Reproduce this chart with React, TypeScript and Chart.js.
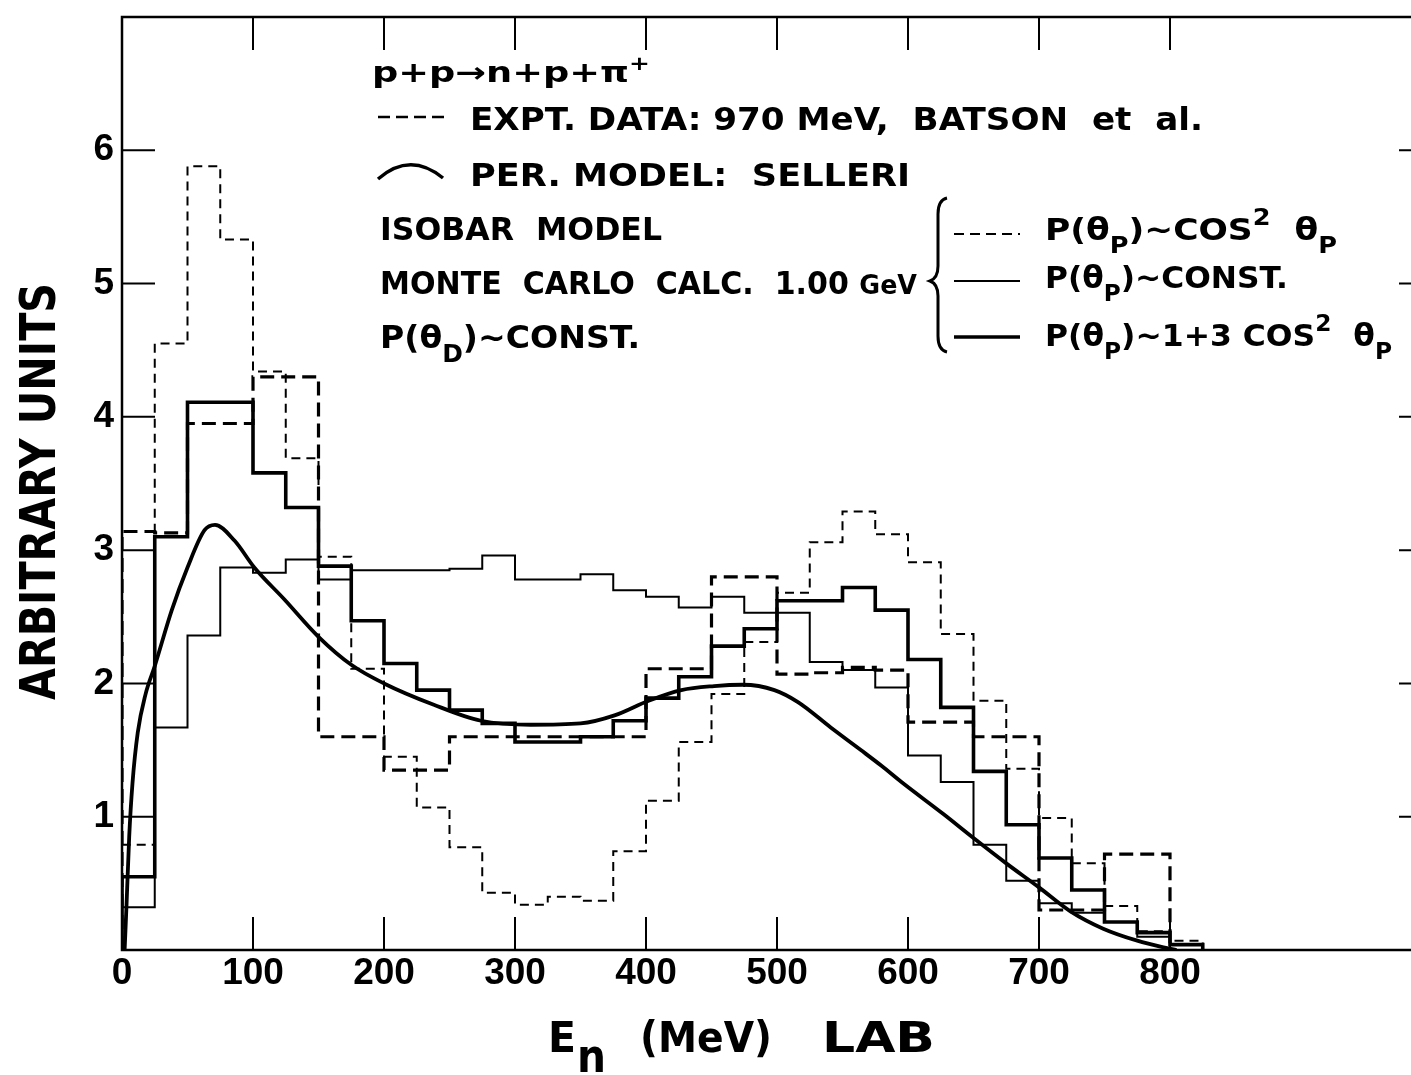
import React, { useEffect, useRef } from 'react';
import { Chart, registerables } from 'chart.js';

Chart.register(...registerables);

// Neutron lab energy bins, 25 MeV wide (left edges, MeV)
const BIN_WIDTH = 25;
const BIN_STARTS = [
  0, 25, 50, 75, 100, 125, 150, 175, 200, 225, 250, 275, 300, 325, 350, 375, 400,
  425, 450, 475, 500, 525, 550, 575, 600, 625, 650, 675, 700, 725, 750, 775, 800,
];

// Experimental spectrum, 970 MeV (Batson et al.)
const EXPT_BATSON = [
  0.79, 4.55, 5.88, 5.33, 4.34, 3.69, 2.95, 2.11, 1.45, 1.07, 0.77, 0.43, 0.34, 0.4, 0.37, 0.74, 1.12,
  1.56, 1.92, 2.31, 2.68, 3.06, 3.29, 3.12, 2.91, 2.37, 1.87, 1.36, 0.99, 0.65, 0.33, 0.14, 0.07,
];

// Isobar model Monte Carlo, 1.00 GeV, P(θp) ~ cos²θp
const ISOBAR_COS2 = [
  3.14, 3.13, 3.95, 3.95, 4.3, 4.3, 1.6, 1.6, 1.35, 1.35, 1.6, 1.6, 1.6, 1.6, 1.6, 1.6, 2.11,
  2.11, 2.8, 2.8, 2.07, 2.08, 2.12, 2.1, 1.71, 1.71, 1.6, 1.6, 0.3, 0.3, 0.72, 0.72,
];

// Isobar model Monte Carlo, P(θp) ~ const.
const ISOBAR_CONST = [
  0.32, 1.67, 2.36, 2.87, 2.83, 2.93, 2.78, 2.85, 2.85, 2.85, 2.86, 2.96, 2.78, 2.78, 2.82, 2.7, 2.65,
  2.57, 2.65, 2.53, 2.53, 2.16, 2.1, 1.97, 1.46, 1.26, 0.79, 0.52, 0.35, 0.28, 0.21, 0.1,
];

// Isobar model Monte Carlo, P(θp) ~ 1 + 3cos²θp
const ISOBAR_1_3COS2 = [
  0.55, 3.1, 4.11, 4.11, 3.58, 3.32, 2.88, 2.47, 2.15, 1.95, 1.8, 1.7, 1.56, 1.56, 1.6, 1.72, 1.89,
  2.05, 2.28, 2.41, 2.62, 2.62, 2.72, 2.55, 2.18, 1.82, 1.34, 0.94, 0.69, 0.45, 0.21, 0.13, 0.04,
];

// Peripheral model (Selleri), smooth curve
const SELLERI_E = [
  2, 3.5, 5.5, 8, 12, 18, 25, 38, 50, 63, 71, 86, 101, 124, 150, 175, 200, 238, 274, 312, 350,
  376, 402, 427, 452, 474, 498, 516, 541, 564, 580, 595, 627, 650, 675, 700, 724, 749, 775, 795, 805,
];
const SELLERI_Y = [
  0, 0.35, 0.85, 1.25, 1.63, 1.92, 2.13, 2.55, 2.87, 3.15, 3.19, 3.07, 2.87, 2.63, 2.35, 2.14, 2.0,
  1.84, 1.72, 1.69, 1.7, 1.76, 1.87, 1.95, 1.98, 1.99, 1.95, 1.86, 1.67, 1.5, 1.38, 1.26, 1.02, 0.84,
  0.65, 0.47, 0.29, 0.16, 0.07, 0.02, 0,
];

// Axis ticks
const X_TICK_LABELS = [0, 100, 200, 300, 400, 500, 600, 700, 800];
const X_TICK_MARKS = [100, 200, 300, 400, 500, 600, 700, 800];
const Y_TICK_LABELS = [1, 2, 3, 4, 5, 6];

const TEXT_FONT = '"DejaVu Sans", "Liberation Sans", sans-serif';
const TICK_FONT = '"Liberation Sans", "DejaVu Sans", sans-serif';

type Seg = { t: string; size: number; dy?: number };

// histogram outline: rise at the first edge, flat tops, drop after the last bin
function histPoints(values: number[]) {
  const pts = [{ x: BIN_STARTS[0], y: 0 }];
  values.forEach((v, i) => pts.push({ x: BIN_STARTS[i], y: v }));
  pts.push({ x: BIN_STARTS[values.length - 1] + BIN_WIDTH, y: 0 });
  return pts;
}

// draws a run of text pieces (sub/superscripts via dy), squeezed to a given width
function drawRich(ctx: CanvasRenderingContext2D, segs: Seg[], x: number, baseline: number, width: number) {
  ctx.save();
  ctx.textAlign = 'left';
  ctx.textBaseline = 'alphabetic';
  const widths = segs.map((s) => {
    ctx.font = `bold ${s.size}px ${TEXT_FONT}`;
    return ctx.measureText(s.t).width;
  });
  const total = widths.reduce((a, b) => a + b, 0);
  ctx.translate(x, baseline);
  ctx.scale(width / total, 1);
  let cx = 0;
  segs.forEach((s, i) => {
    ctx.font = `bold ${s.size}px ${TEXT_FONT}`;
    ctx.fillText(s.t, cx, s.dy || 0);
    cx += widths[i];
  });
  ctx.restore();
}

function seg(ctx: CanvasRenderingContext2D, x1: number, y1: number, x2: number, y2: number) {
  ctx.beginPath();
  ctx.moveTo(x1, y1);
  ctx.lineTo(x2, y2);
  ctx.stroke();
}

const frameAndNotes = {
  id: 'frameAndNotes',
  afterDatasetsDraw(chart: any) {
    const { ctx, chartArea: a } = chart;
    const xs = chart.scales.x;
    const ys = chart.scales.y;
    ctx.save();
    ctx.strokeStyle = '#000';
    ctx.fillStyle = '#000';
    ctx.setLineDash([]);

    // frame
    ctx.lineWidth = 2.5;
    ctx.strokeRect(a.left, a.top, a.right - a.left, a.bottom - a.top);

    // inward tick marks on all four sides
    const TL = 33;
    ctx.lineWidth = 2;
    X_TICK_MARKS.forEach((v) => {
      const px = xs.getPixelForValue(v);
      seg(ctx, px, a.bottom, px, a.bottom - TL);
      seg(ctx, px, a.top, px, a.top + TL);
    });
    Y_TICK_LABELS.forEach((v) => {
      const py = ys.getPixelForValue(v);
      seg(ctx, a.left, py, a.left + TL, py);
      seg(ctx, a.right, py, a.right - TL, py);
    });

    // axis titles
    ctx.save();
    ctx.translate(55, 700);
    ctx.rotate(-Math.PI / 2);
    drawRich(ctx, [{ t: 'ARBITRARY UNITS', size: 50 }], 0, 0, 417);
    ctx.restore();
    drawRich(ctx, [{ t: 'E', size: 42 }], 548, 1052, 28);
    drawRich(ctx, [{ t: 'n', size: 46 }], 577, 1072, 29);
    drawRich(ctx, [{ t: '(MeV)', size: 42 }], 640, 1052, 132);
    drawRich(ctx, [{ t: 'LAB', size: 42 }], 822, 1052, 113);

    // reaction and key
    drawRich(
      ctx,
      [
        { t: 'p+p', size: 28 },
        { t: '→', size: 28 },
        { t: 'n+p+', size: 28 },
        { t: 'π', size: 28 },
        { t: '+', size: 19, dy: -12 },
      ],
      372, 82, 278,
    );

    ctx.lineWidth = 2.4;
    ctx.setLineDash([12, 6]);
    seg(ctx, 378, 117, 445, 117);
    ctx.setLineDash([]);
    drawRich(ctx, [{ t: 'EXPT. DATA: 970 MeV,  BATSON  et  al.', size: 32 }], 470, 130, 733);

    ctx.lineWidth = 3.4;
    ctx.beginPath();
    ctx.moveTo(378, 179);
    ctx.quadraticCurveTo(410, 151, 443, 178);
    ctx.stroke();
    drawRich(ctx, [{ t: 'PER. MODEL:  SELLERI', size: 32 }], 470, 186, 440);

    drawRich(ctx, [{ t: 'ISOBAR  MODEL', size: 32 }], 380, 240, 282);
    drawRich(
      ctx,
      [
        { t: 'MONTE  CARLO  CALC.  1.00 ', size: 32 },
        { t: 'GeV', size: 27 },
      ],
      380, 294, 537,
    );
    drawRich(
      ctx,
      [
        { t: 'P(θ', size: 32 },
        { t: 'D', size: 24, dy: 14 },
        { t: ')~CONST.', size: 32 },
      ],
      380, 348, 260,
    );

    // brace grouping the three Monte Carlo variants
    ctx.lineWidth = 3;
    ctx.beginPath();
    ctx.moveTo(947, 198);
    ctx.quadraticCurveTo(938, 200, 938, 214);
    ctx.lineTo(938, 266);
    ctx.quadraticCurveTo(938, 278, 930, 281);
    ctx.quadraticCurveTo(938, 284, 938, 296);
    ctx.lineTo(938, 336);
    ctx.quadraticCurveTo(938, 350, 947, 352);
    ctx.stroke();

    ctx.lineWidth = 2.2;
    ctx.setLineDash([10, 6]);
    seg(ctx, 954, 234, 1020, 234);
    ctx.setLineDash([]);
    ctx.lineWidth = 2;
    seg(ctx, 954, 281, 1020, 281);
    ctx.lineWidth = 3.4;
    seg(ctx, 954, 337, 1020, 337);

    drawRich(
      ctx,
      [
        { t: 'P(θ', size: 31 },
        { t: 'P', size: 23, dy: 13 },
        { t: ')~COS', size: 31 },
        { t: '2', size: 23, dy: -15 },
        { t: '  θ', size: 31 },
        { t: 'P', size: 23, dy: 13 },
      ],
      1045, 240, 292,
    );
    drawRich(
      ctx,
      [
        { t: 'P(θ', size: 31 },
        { t: 'P', size: 23, dy: 13 },
        { t: ')~CONST.', size: 31 },
      ],
      1045, 288, 243,
    );
    drawRich(
      ctx,
      [
        { t: 'P(θ', size: 31 },
        { t: 'P', size: 23, dy: 13 },
        { t: ')~1+3 COS', size: 31 },
        { t: '2', size: 23, dy: -15 },
        { t: '  θ', size: 31 },
        { t: 'P', size: 23, dy: 13 },
      ],
      1045, 346, 347,
    );

    ctx.restore();
  },
};

export default function App() {
  const canvasRef = useRef<HTMLCanvasElement | null>(null);

  useEffect(() => {
    const canvas = canvasRef.current;
    if (!canvas) return;

    const stepLine = (data: { x: number; y: number }[], width: number, dash: number[]) => ({
      data,
      borderColor: '#000',
      borderWidth: width,
      borderDash: dash,
      stepped: true as const,
      pointRadius: 0,
      fill: false,
    });

    const chart = new Chart(canvas, {
      type: 'line',
      data: {
        datasets: [
          { label: 'EXPT. DATA: 970 MeV, BATSON et al.', ...stepLine(histPoints(EXPT_BATSON), 2, [9, 6]) },
          { label: 'P(θp)~COS² θp', ...stepLine(histPoints(ISOBAR_COS2), 3.2, [14, 7]) },
          { label: 'P(θp)~CONST.', ...stepLine(histPoints(ISOBAR_CONST), 2, []) },
          { label: 'P(θp)~1+3 COS² θp', ...stepLine(histPoints(ISOBAR_1_3COS2), 3.6, []) },
          {
            label: 'PER. MODEL: SELLERI',
            data: SELLERI_E.map((e, i) => ({ x: e, y: SELLERI_Y[i] })),
            borderColor: '#000',
            borderWidth: 3.8,
            cubicInterpolationMode: 'monotone',
            pointRadius: 0,
            fill: false,
          },
        ],
      },
      options: {
        animation: false,
        responsive: false,
        devicePixelRatio: 1,
        events: [],
        layout: { padding: { left: 0, right: 8, top: 17, bottom: 0 } },
        plugins: { legend: { display: false }, tooltip: { enabled: false }, title: { display: false } },
        scales: {
          x: {
            type: 'linear',
            min: 0,
            max: 1000,
            afterFit: (s: any) => {
              s.height = 125;
              s.paddingLeft = 0;
              s.paddingRight = 0;
            },
            grid: { display: false, drawTicks: false },
            border: { display: false },
            ticks: {
              stepSize: 100,
              autoSkip: false,
              maxRotation: 0,
              padding: 2,
              color: '#000',
              font: { family: TICK_FONT, size: 37, weight: 'bold' },
              callback: (v: any) => (X_TICK_LABELS.includes(Number(v)) ? String(v) : ''),
            },
          },
          y: {
            type: 'linear',
            min: 0,
            max: 7,
            afterFit: (s: any) => {
              s.width = 122;
              s.paddingTop = 0;
              s.paddingBottom = 0;
            },
            grid: { display: false, drawTicks: false },
            border: { display: false },
            ticks: {
              stepSize: 1,
              padding: 8,
              color: '#000',
              font: { family: TICK_FONT, size: 37, weight: 'bold' },
              callback: (v: any) => (Y_TICK_LABELS.includes(Number(v)) ? String(v) : ''),
            },
          },
        },
      },
      plugins: [frameAndNotes],
    } as any);

    return () => chart.destroy();
  }, []);

  return (
    <div
      style={{
        position: 'fixed',
        left: 0,
        top: 0,
        width: 1411,
        height: 1075,
        overflow: 'hidden',
        background: '#fff',
      }}
    >
      <canvas ref={canvasRef} width={1440} height={1075} style={{ display: 'block' }} />
    </div>
  );
}
